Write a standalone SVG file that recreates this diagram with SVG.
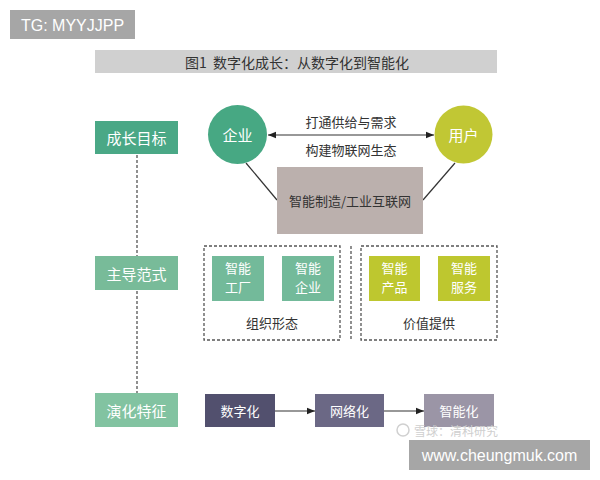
<svg xmlns="http://www.w3.org/2000/svg" width="600" height="480" viewBox="0 0 600 480">
<style>
text{font-family:"Noto Sans CJK SC","Liberation Sans",sans-serif;text-anchor:middle;dominant-baseline:central}
.w{fill:#ffffff}
.d{fill:#333333}
.lbl{font-size:15px}
.sm{font-size:13px}
.dash{fill:none;stroke:#555555;stroke-width:1.3;stroke-dasharray:3,2}
.ln{stroke:#333333;stroke-width:1.2;fill:none}
</style>
<defs>
<marker id="ah" viewBox="0 0 10 10" refX="10" refY="5" markerWidth="8" markerHeight="8" orient="auto-start-reverse" markerUnits="userSpaceOnUse">
<path d="M0,1 L10,5 L0,9 z" fill="#222222"/>
</marker>
</defs>
<rect width="600" height="480" fill="#ffffff"/>

<g id="tg">
<rect x="10" y="10" width="125" height="29" fill="#a6a6a6"/>
<text x="72.5" y="25" class="w" style="font-family:'Liberation Sans',sans-serif;font-size:16px">TG: MYYJJPP</text>
</g>

<g id="title">
<rect x="95" y="50" width="402" height="23" fill="#d0d0d0"/>
<text x="297" y="62" class="d" style="font-size:14px">图1&#160;&#160;数字化成长：从数字化到智能化</text>
</g>

<g id="connectors">
<line x1="137" y1="155" x2="137" y2="256" class="dash"/>
<line x1="137" y1="291" x2="137" y2="393" class="dash"/>
<line x1="268" y1="135" x2="434" y2="135" class="ln" marker-start="url(#ah)" marker-end="url(#ah)"/>
<line x1="246" y1="163" x2="277" y2="200" class="ln"/>
<line x1="423" y1="200" x2="455" y2="163" class="ln"/>
<line x1="275" y1="411" x2="315" y2="411" class="ln" marker-end="url(#ah)"/>
<line x1="384" y1="411" x2="424" y2="411" class="ln" marker-end="url(#ah)"/>
</g>

<g id="goal">
<rect x="95" y="121" width="83" height="33" fill="#4aa886"/>
<text x="136.5" y="137.5" class="w lbl">成长目标</text>
</g>
<g id="paradigm">
<rect x="95" y="256" width="83" height="34" fill="#78bb99"/>
<text x="136.5" y="273" class="w lbl">主导范式</text>
</g>
<g id="evolution">
<rect x="95" y="393" width="83" height="34" fill="#82c3a1"/>
<text x="136.5" y="410" class="w lbl">演化特征</text>
</g>

<g id="enterprise">
<circle cx="237.5" cy="134.5" r="29.5" fill="#47a883"/>
<text x="237.5" y="134.5" class="w lbl">企业</text>
</g>
<g id="user">
<circle cx="463.5" cy="134.5" r="29" fill="#c1c734"/>
<text x="463.5" y="134.5" class="w lbl">用户</text>
</g>
<g id="link-labels">
<text x="351" y="121" class="d sm">打通供给与需求</text>
<text x="351" y="149" class="d sm">构建物联网生态</text>
</g>
<g id="platform">
<rect x="277" y="167" width="146" height="67" fill="#bbb0ad"/>
<text x="350" y="200" class="d sm">智能制造/工业互联网</text>
</g>

<g id="org-form">
<rect x="204" y="246" width="136" height="94" class="dash"/>
<text x="272" y="322" class="d sm">组织形态</text>
</g>
<line x1="351" y1="246" x2="351" y2="340" class="dash"/>
<g id="value">
<rect x="361" y="246" width="136" height="94" class="dash"/>
<text x="429" y="322" class="d sm">价值提供</text>
</g>

<g id="smart-factory">
<rect x="212" y="256" width="52" height="45" fill="#73ba9a"/>
<text x="238" y="267" class="w sm">智能</text>
<text x="238" y="286" class="w sm">工厂</text>
</g>
<g id="smart-enterprise">
<rect x="282" y="256" width="52" height="45" fill="#73ba9a"/>
<text x="308" y="267" class="w sm">智能</text>
<text x="308" y="286" class="w sm">企业</text>
</g>
<g id="smart-product">
<rect x="369" y="256" width="51" height="45" fill="#bec72f"/>
<text x="394.5" y="267" class="w sm">智能</text>
<text x="394.5" y="286" class="w sm">产品</text>
</g>
<g id="smart-service">
<rect x="438" y="256" width="52" height="45" fill="#bec72f"/>
<text x="464" y="267" class="w sm">智能</text>
<text x="464" y="286" class="w sm">服务</text>
</g>

<g id="digital">
<rect x="205" y="394" width="70" height="33" fill="#52506e"/>
<text x="240" y="410.5" class="w sm">数字化</text>
</g>
<g id="network">
<rect x="315" y="394" width="69" height="33" fill="#6b6885"/>
<text x="349.5" y="410.5" class="w sm">网络化</text>
</g>
<g id="intelligent">
<rect x="424" y="394" width="70" height="33" fill="#9b95a6"/>
<text x="459" y="410" class="w sm">智能化</text>
</g>

<g id="watermark">
<circle cx="403" cy="430" r="6" fill="none" stroke="#d0d0d0" stroke-width="1.5"/>
<text x="456" y="430" style="font-size:12px;fill:#cfcfcf">雪球：清科研究</text>
</g>
<g id="site">
<rect x="409" y="440" width="181" height="30" fill="#a6a6a6"/>
<text x="499.5" y="455" class="w" style="font-family:'Liberation Sans',sans-serif;font-size:16px">www.cheungmuk.com</text>
</g>
</svg>
